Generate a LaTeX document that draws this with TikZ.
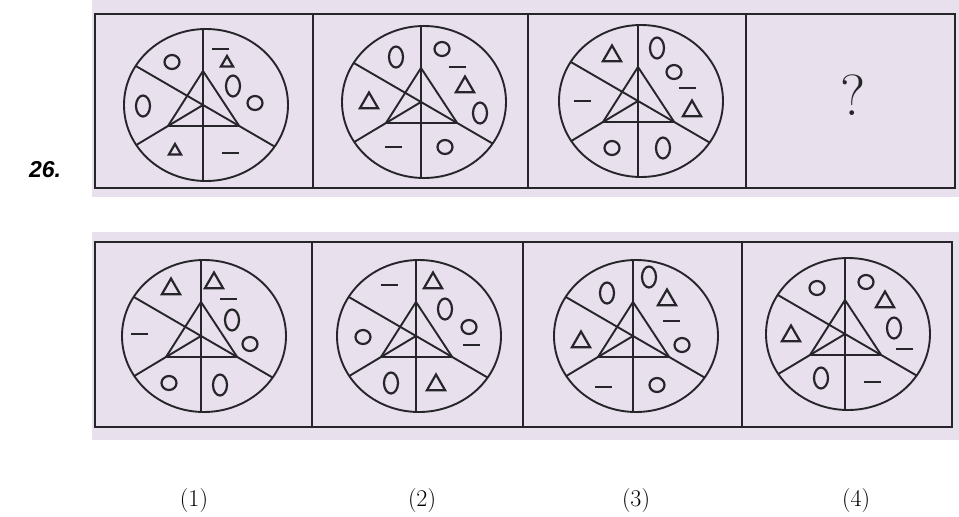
\documentclass[tikz,border=0pt]{standalone}
\usepackage{fontspec}
\usetikzlibrary{shapes.geometric}
\newfontfamily\qnumfont{Liberation Sans}
\definecolor{scan}{RGB}{232,224,237}
\definecolor{ink}{RGB}{38,38,42}

% one wheel: ellipse, sector lines and the triangle; #2 holds the marks
\newcommand{\wheel}[2]{%
  \begin{scope}[shift={#1}]
    \draw[wline] (0,0) ellipse [x radius=82pt, y radius=76pt];
    \draw[wline] (-3,-76) -- (-3,76);
    \draw[wline] (-70.3,-39.1) -- (68.7,41.6);
    \draw[wline] (-69.7,40) -- (-3,0);
    \draw[wline] (-3,-34) -- (-38,21) -- (33.2,21) -- cycle;
    #2
  \end{scope}}

\begin{document}
\begin{tikzpicture}[x=1pt, y=-1pt,
  wline/.style={draw=ink, line width=1.9pt},
  sym/.style={draw=ink, line width=2.2pt, inner sep=0pt},
  ring/.style={sym, ellipse, minimum width=15pt, minimum height=14pt},
  oval/.style={sym, ellipse, minimum width=14pt, minimum height=21pt},
  tri/.style={sym, regular polygon, regular polygon sides=3, minimum size=21pt},
  smalltri/.style={tri, minimum size=14pt},
  bar/.style={fill=ink, inner sep=0pt, minimum width=17pt, minimum height=2.4pt},
  lab/.style={font=\fontsize{24}{28}\selectfont}]
  \useasboundingbox (0,0) rectangle (959,517);
  \fill[scan] (92,0) rectangle (959,197);
  \fill[scan] (92,232) rectangle (959,440);

  \node[font=\qnumfont\bfseries\itshape\fontsize{23}{27}\selectfont] (qno) at (45,170) {26.};

  % question row
  \draw[wline] (95,14) rectangle (955,188);
  \draw[wline] (313,14) -- (313,188);
  \draw[wline] (528,14) -- (528,188);
  \draw[wline] (746,14) -- (746,188);

  \wheel{(206,105)}{
    \node[ring] (q1a) at (-34,-43) {};
    \node[bar] (q1b) at (14,-56) {};
    \node[smalltri] (q1c) at (21,-42) {};
    \node[oval] (q1d) at (27,-19) {};
    \node[ring] (q1e) at (49,-2) {};
    \node[oval] (q1f) at (-63,1) {};
    \node[smalltri] (q1g) at (-31,46) {};
    \node[bar] (q1h) at (24,48) {};
  }
  \wheel{(424,102)}{
    \node[oval] (q2a) at (-28,-45) {};
    \node[ring] (q2b) at (18,-53) {};
    \node[bar] (q2c) at (33,-35) {};
    \node[tri] (q2d) at (41,-15) {};
    \node[oval] (q2e) at (56,11) {};
    \node[tri] (q2f) at (-55,1) {};
    \node[bar] (q2g) at (-31,45) {};
    \node[ring] (q2h) at (21,45) {};
  }
  \wheel{(641,101)}{
    \node[tri] (q3a) at (-29,-45) {};
    \node[oval] (q3b) at (16,-53) {};
    \node[ring] (q3c) at (33,-29) {};
    \node[bar] (q3d) at (46,-13) {};
    \node[tri] (q3e) at (51,10) {};
    \node[bar] (q3f) at (-59,0) {};
    \node[ring] (q3g) at (-29,47) {};
    \node[oval] (q3h) at (22,47) {};
  }
  \node[font=\fontsize{58}{66}\selectfont, text=ink] (qmark) at (853,95) {?};

  % answer row
  \draw[wline] (95,242) rectangle (952,427);
  \draw[wline] (312,242) -- (312,427);
  \draw[wline] (523,242) -- (523,427);
  \draw[wline] (742,242) -- (742,427);

  \wheel{(204,336)}{
    \node[tri] (o1a) at (-33,-47) {};
    \node[tri] (o1b) at (10,-53) {};
    \node[bar] (o1c) at (24,-37) {};
    \node[oval] (o1d) at (28,-16) {};
    \node[ring] (o1e) at (46,8) {};
    \node[bar] (o1f) at (-65,-2) {};
    \node[ring] (o1g) at (-35,47) {};
    \node[oval] (o1h) at (16,49) {};
  }
  \wheel{(419,336)}{
    \node[bar] (o2a) at (-30,-51) {};
    \node[tri] (o2b) at (14,-53) {};
    \node[oval] (o2c) at (26,-27) {};
    \node[ring] (o2d) at (50,-9) {};
    \node[bar] (o2e) at (52,9) {};
    \node[ring] (o2f) at (-56,1) {};
    \node[oval] (o2g) at (-28,47) {};
    \node[tri] (o2h) at (17,49) {};
  }
  \wheel{(636,336)}{
    \node[oval] (o3a) at (-29,-43) {};
    \node[oval] (o3b) at (13,-59) {};
    \node[tri] (o3c) at (31,-36) {};
    \node[bar] (o3d) at (35,-15) {};
    \node[ring] (o3e) at (46,9) {};
    \node[tri] (o3f) at (-55,6) {};
    \node[bar] (o3g) at (-33,51) {};
    \node[ring] (o3h) at (21,49) {};
  }
  \wheel{(848,334)}{
    \node[ring] (o4a) at (-31,-46) {};
    \node[ring] (o4b) at (18,-52) {};
    \node[tri] (o4c) at (37,-32) {};
    \node[oval] (o4d) at (46,-6) {};
    \node[bar] (o4e) at (56,15) {};
    \node[tri] (o4f) at (-57,2) {};
    \node[oval] (o4g) at (-27,44) {};
    \node[bar] (o4h) at (24,48) {};
  }

  \node[lab] (l1) at (194,501) {(1)};
  \node[lab] (l2) at (422,501) {(2)};
  \node[lab] (l3) at (636,501) {(3)};
  \node[lab] (l4) at (856,501) {(4)};
\end{tikzpicture}
\end{document}
